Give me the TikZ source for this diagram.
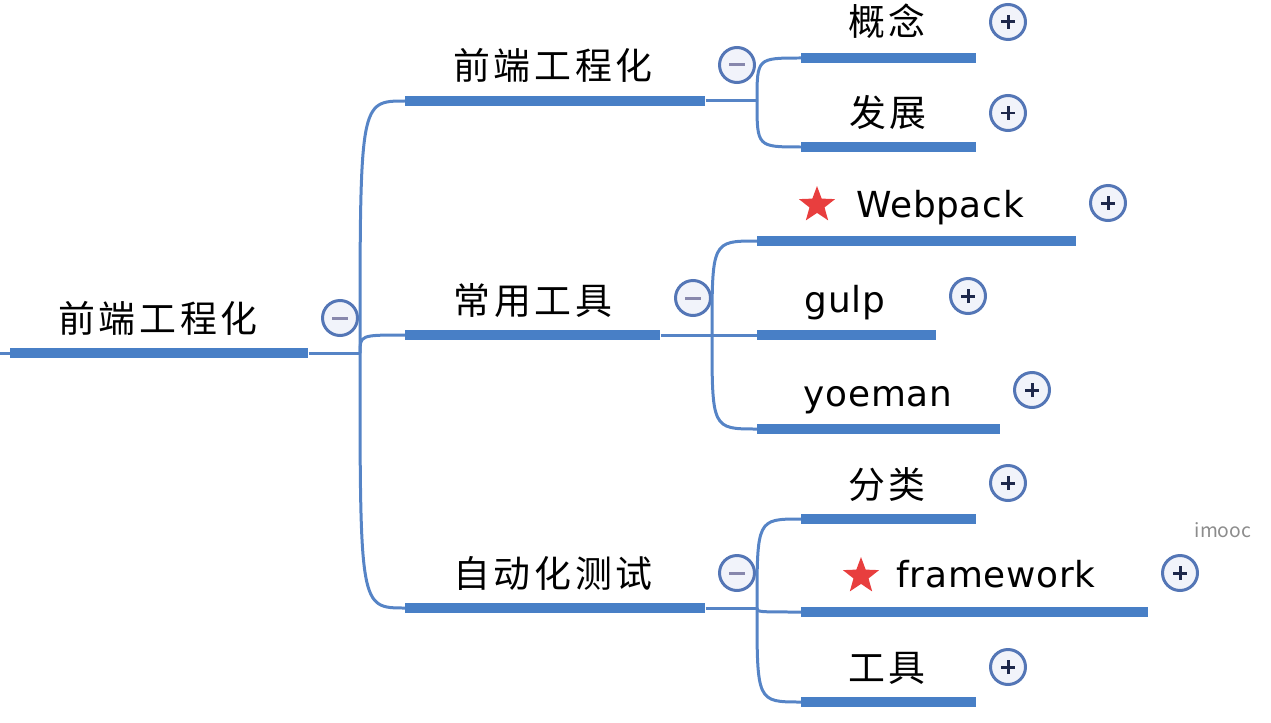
\documentclass[tikz,border=0pt]{standalone}
\usepackage{fontspec}
\setmainfont{Noto Sans CJK SC}
\newfontfamily\labelfont[LetterSpace=10]{Noto Sans CJK SC}
\newfontfamily\latinlabel[LetterSpace=2]{DejaVu Sans}
\usepackage{xcolor}
\definecolor{barblue}{RGB}{72,127,198}
\definecolor{linkblue}{RGB}{86,132,198}
\definecolor{ringblue}{RGB}{84,118,182}
\definecolor{ringfill}{RGB}{241,243,250}
\definecolor{plusdark}{RGB}{30,40,75}
\definecolor{minusgray}{RGB}{135,135,172}
\definecolor{starred}{RGB}{232,62,62}
\definecolor{logogray}{RGB}{140,140,140}
\usepackage{tikz}
\usetikzlibrary{shapes.geometric, calc}

\begin{document}
\begin{tikzpicture}[x=0.02cm, y=-0.02cm,
    bar/.style={rectangle, fill=barblue, minimum height=0.2cm, inner sep=0pt, anchor=west},
    link/.style={draw=linkblue, line width=0.06cm},
    topic/.style={anchor=base, inner sep=0pt, font=\labelfont\fontsize{21}{22}\selectfont},
    latin/.style={topic, font=\latinlabel\fontsize{20.4}{22}\selectfont},
    btn/.style={circle, draw=ringblue, fill=ringfill, line width=0.06cm, minimum size=0.7cm, inner sep=0pt},
    plusbtn/.style={btn, path picture={
        \draw[plusdark, line width=0.06cm]
          ([xshift=-0.14cm]path picture bounding box.center) -- ([xshift=0.14cm]path picture bounding box.center)
          ([yshift=-0.14cm]path picture bounding box.center) -- ([yshift=0.14cm]path picture bounding box.center);}},
    minusbtn/.style={btn, path picture={
        \draw[minusgray, line width=0.06cm]
          ([xshift=-0.16cm]path picture bounding box.center) -- ([xshift=0.16cm]path picture bounding box.center);}},
    redstar/.style={star, star points=5, star point ratio=2.4, fill=starred, minimum size=0.76cm, inner sep=0pt}
  ]
    \useasboundingbox (0,0) rectangle (1271,723);

    % bars
    \node[bar, minimum width=5.96cm] (root) at (10,353) {};
    \node[bar, minimum width=6.0cm] (fe) at (405,101) {};
    \node[bar, minimum width=5.1cm] (tools) at (405,335) {};
    \node[bar, minimum width=6.0cm] (test) at (405,608) {};
    \node[bar, minimum width=3.5cm] (concept) at (801,58) {};
    \node[bar, minimum width=3.5cm] (history) at (801,147) {};
    \node[bar, minimum width=6.38cm] (webpack) at (757,241) {};
    \node[bar, minimum width=3.58cm] (gulp) at (757,335) {};
    \node[bar, minimum width=4.86cm] (yoeman) at (757,429) {};
    \node[bar, minimum width=3.5cm] (kinds) at (801,519) {};
    \node[bar, minimum width=6.94cm] (framework) at (801,612) {};
    \node[bar, minimum width=3.5cm] (testtools) at (801,702) {};

    % labels
    \node[topic] (root-l) at (158,332) {前端工程化};
    \node[topic] (fe-l) at (553,80) {前端工程化};
    \node[topic] (tools-l) at (533,314) {常用工具};
    \node[topic] (test-l) at (553,587) {自动化测试};
    \node[topic] (concept-l) at (887,36) {概念};
    \node[topic] (history-l) at (888,127) {发展};
    \node[latin] (webpack-l) at (940,217) {Webpack};
    \node[latin] (gulp-l) at (845,312) {gulp};
    \node[latin] (yoeman-l) at (878,406) {yoeman};
    \node[topic] (kinds-l) at (887,498) {分类};
    \node[latin] (framework-l) at (996,587) {framework};
    \node[topic] (testtools-l) at (887,681) {工具};

    \node[redstar] (webpack-s) at (817,205) {};
    \node[redstar] (framework-s) at (861,576) {};

    % buttons
    \node[minusbtn] (root-b) at (340,318) {};
    \node[minusbtn] (fe-b) at (737,65) {};
    \node[minusbtn] (tools-b) at (693,298) {};
    \node[minusbtn] (test-b) at (737,573) {};
    \node[plusbtn] (concept-b) at (1008,22) {};
    \node[plusbtn] (history-b) at (1008,113) {};
    \node[plusbtn] (webpack-b) at (1108,203) {};
    \node[plusbtn] (gulp-b) at (968,296) {};
    \node[plusbtn] (yoeman-b) at (1032,390) {};
    \node[plusbtn] (kinds-b) at (1008,483) {};
    \node[plusbtn] (framework-b) at (1180,573) {};
    \node[plusbtn] (testtools-b) at (1008,667) {};

    % connectors
    \coordinate (edge) at (0,353);
    \coordinate (rootfork) at (360,353);
    \coordinate (fefork) at (757,101);
    \coordinate (toolsfork) at (712,335);
    \coordinate (testfork) at (757,608);

    \draw[link] (edge) -- (root.west);
    \draw[link] (root.east) -- (rootfork);
    \foreach \kid in {fe, tools, test}
      \draw[link] (rootfork) .. controls (rootfork |- \kid.west) .. (\kid.west);
    \draw[link] (fe.east) -- (fefork);
    \foreach \kid in {concept, history}
      \draw[link] (fefork) .. controls (fefork |- \kid.west) .. (\kid.west);
    \draw[link] (tools.east) -- (toolsfork);
    \foreach \kid in {webpack, gulp, yoeman}
      \draw[link] (toolsfork) .. controls (toolsfork |- \kid.west) .. (\kid.west);
    \draw[link] (test.east) -- (testfork);
    \foreach \kid in {kinds, framework, testtools}
      \draw[link] (testfork) .. controls (testfork |- \kid.west) .. (\kid.west);

    \node[text=logogray, font=\fontsize{11}{12}\selectfont] (logo) at (1223,530) {imooc};
\end{tikzpicture}
\end{document}
